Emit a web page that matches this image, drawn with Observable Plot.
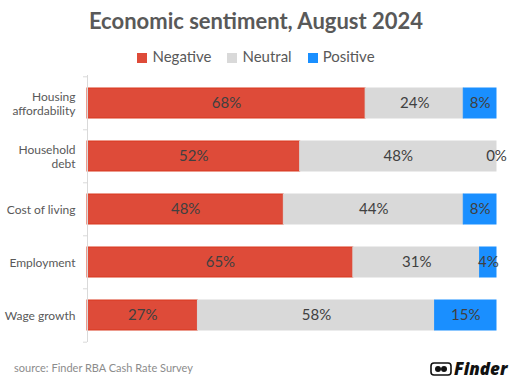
<!DOCTYPE html>
<html><head><meta charset="utf-8">
<script src="https://cdn.jsdelivr.net/npm/d3@7"></script>
<script src="https://cdn.jsdelivr.net/npm/@observablehq/plot@0.6"></script>
<style>
body{margin:0;background:#fff;font-family:Lato,"Open Sans",sans-serif;}
#wrap{position:relative;width:512px;height:380px;overflow:hidden;}
#title{position:absolute;top:7px;left:0;width:512px;text-align:center;font-weight:700;font-size:22px;color:#595959;}
#legend{position:absolute;top:47px;left:0;width:512px;text-align:center;font-size:15px;color:#595959;}
#legend span.sw{display:inline-block;width:10px;height:10px;margin-right:5px;vertical-align:-1px;}
#legend span.it{margin:0 8px;}
#chart{position:absolute;top:70px;left:0;}
#source{position:absolute;top:361px;left:14px;font-size:11px;color:#8c8c8c;}
#logo{position:absolute;top:357px;left:430px;font-size:17px;font-weight:900;font-style:italic;color:#111;font-family:"Open Sans",sans-serif;}
</style></head>
<body><div id="wrap">
<div id="title">Economic sentiment, August 2024</div>
<div id="legend"></div>
<div id="chart"></div>
<div id="source">source: Finder RBA Cash Rate Survey</div>
<div id="logo"><svg width="22" height="14" style="vertical-align:-1px;margin-right:2px"><rect x="1" y="1" width="20" height="12" rx="3" fill="none" stroke="#111" stroke-width="1.6"/><circle cx="8" cy="7" r="3" fill="#111"/><circle cx="14" cy="7" r="3" fill="#111"/></svg>Finder</div>
</div>
<script>
const categories = ["Housing affordability","Household debt","Cost of living","Employment","Wage growth"];
const seriesNames = ["Negative","Neutral","Positive"];
const negative = [68,52,48,65,27];
const neutral = [24,48,44,31,58];
const positive = [8,0,8,4,15];
const colors = ["#DE4B39","#D9D9D9","#1A8FFF"];
const strokes = ["#D9381E","#D9D9D9","#1A8FFF"];

const lg = document.getElementById("legend");
lg.innerHTML = seriesNames.map((s,i)=>`<span class="it"><span class="sw" style="background:${colors[i]}"></span>${s}</span>`).join("");

const vals = [negative, neutral, positive];
const data = [];
categories.forEach((c,ci)=>{
  let x = 0;
  seriesNames.forEach((s,si)=>{
    const v = vals[si][ci];
    data.push({cat:c, series:s, value:v, x1:x, x2:x+v, mid:x+v/2});
    x += v;
  });
});

const labelFmt = {"Housing affordability":"Housing\naffordability","Household debt":"Household\ndebt"};
const H = 280, mt = 5, mb = 8;
const step = (H-mt-mb)/categories.length;

const chart = Plot.plot({
  width:512, height:H,
  marginLeft:87, marginRight:16, marginTop:mt, marginBottom:mb,
  style:{fontFamily:"Lato, 'Open Sans', sans-serif", background:"transparent"},
  x:{domain:[0,100], axis:null},
  y:{domain:categories, paddingInner:0.44, paddingOuter:0.22, label:null},
  color:{domain:seriesNames, range:colors},
  marks:[
    Plot.axisY({tickSize:0, tickPadding:12, fontSize:12, color:"#595959", tickFormat:d=>labelFmt[d]||d, lineHeight:1.2}),
    Plot.rectX(data.filter(d=>d.value>0), {y:"cat", x1:"x1", x2:"x2", fill:"series", stroke:d=>strokes[seriesNames.indexOf(d.series)], strokeWidth:1}),
    Plot.ruleX([0], {stroke:"#D9D9D9"}),
    Plot.ruleY(categories, {y:d=>d, x1:0, x2:0, insetLeft:-4, dy:-step/2, stroke:"#D9D9D9"}),
    Plot.ruleY([categories[categories.length-1]], {y:d=>d, x1:0, x2:0, insetLeft:-4, dy:step/2, stroke:"#D9D9D9"}),
    Plot.text(data, {y:"cat", x:"mid", text:d=>d.value+"%", fill:"#404040", fontSize:15})
  ]
});
document.getElementById("chart").appendChild(chart);
</script>
</body></html>
